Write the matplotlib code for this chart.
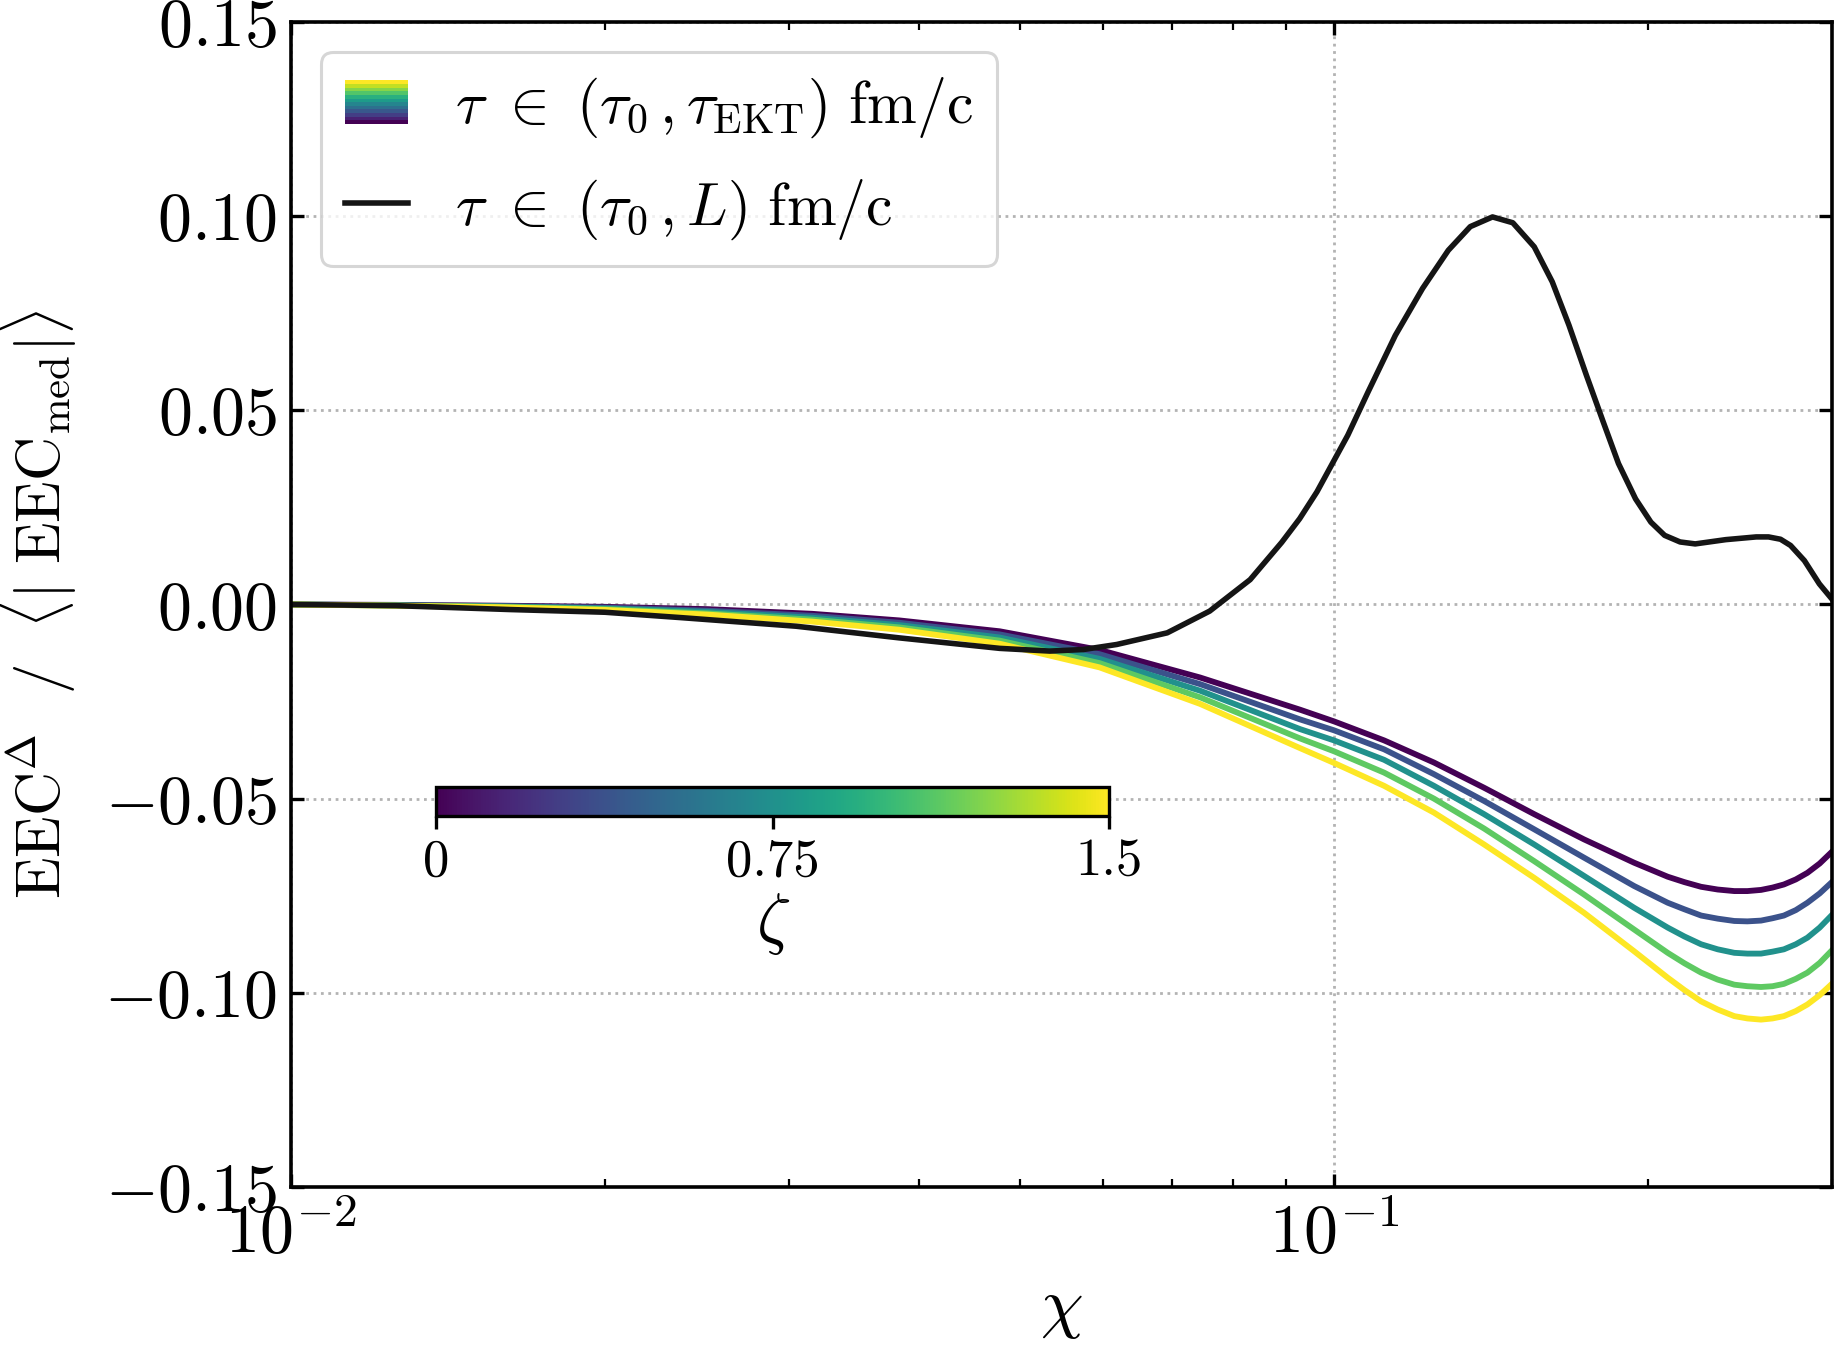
import matplotlib
matplotlib.use("Agg")
import matplotlib.pyplot as plt
import numpy as np
from matplotlib.patches import Rectangle
from matplotlib.legend_handler import HandlerBase
from matplotlib.lines import Line2D
from matplotlib.ticker import LogLocator, NullFormatter
import matplotlib.colors as mcolors

plt.rcParams["font.family"] = "serif"
plt.rcParams["font.serif"] = ["cmr10"]
plt.rcParams["mathtext.fontset"] = "cm"
plt.rcParams["axes.formatter.use_mathtext"] = True

# chi grid for the EKT curves (one curve per zeta)
chi = [0.01, 0.0126, 0.0158, 0.02, 0.0251, 0.0316, 0.0383, 0.0478, 0.0596, 0.0744, 0.0928,
       0.1, 0.1117, 0.1247, 0.1393, 0.1556, 0.1737, 0.194, 0.2089, 0.2168, 0.2249, 0.2333,
       0.242, 0.2491, 0.2567, 0.2633, 0.270, 0.2772, 0.2844, 0.2922, 0.2996]
zeta = [0.0, 0.375, 0.75, 1.125, 1.5]
eec_z0 = [0, -0.0001, -0.0003, -0.0006, -0.0012, -0.0024, -0.0041, -0.0069, -0.0117, -0.0188,
          -0.0271, -0.0301, -0.0350, -0.0407, -0.0472, -0.0540, -0.0605, -0.0665, -0.0701,
          -0.0715, -0.0727, -0.0734, -0.0738, -0.0738, -0.0735, -0.0729, -0.0721, -0.0708,
          -0.0691, -0.0667, -0.0639]
eec_z1 = [0, -0.0002, -0.0004, -0.0008, -0.0016, -0.0029, -0.0047, -0.0077, -0.0128, -0.0205,
          -0.0296, -0.0324, -0.0373, -0.0437, -0.0506, -0.0579, -0.0652, -0.0725, -0.0768,
          -0.0785, -0.0801, -0.0809, -0.0815, -0.0816, -0.0814, -0.0808, -0.0801, -0.0787,
          -0.0768, -0.0744, -0.0717]
eec_z2 = [0, -0.0002, -0.0005, -0.0010, -0.0019, -0.0034, -0.0053, -0.0085, -0.0140, -0.0222,
          -0.0321, -0.0350, -0.0400, -0.0467, -0.0540, -0.0618, -0.0699, -0.0781, -0.0832,
          -0.0855, -0.0875, -0.0888, -0.0897, -0.0899, -0.0899, -0.0894, -0.0888, -0.0875,
          -0.0858, -0.0832, -0.0802]
eec_z3 = [0, -0.0003, -0.0006, -0.0012, -0.0023, -0.0039, -0.0059, -0.0093, -0.0151, -0.0239,
          -0.0345, -0.0378, -0.0433, -0.0500, -0.0577, -0.0661, -0.0747, -0.0837, -0.0897,
          -0.0924, -0.0948, -0.0966, -0.0979, -0.0983, -0.0985, -0.0983, -0.0977, -0.0964,
          -0.0948, -0.0923, -0.0893]
eec_z4 = [0, -0.0003, -0.0007, -0.0014, -0.0026, -0.0044, -0.0065, -0.0101, -0.0162, -0.0256,
          -0.0370, -0.0408, -0.0467, -0.0536, -0.0618, -0.0704, -0.0794, -0.0893, -0.0961,
          -0.0993, -0.1022, -0.1043, -0.1060, -0.1066, -0.1069, -0.1066, -0.1060, -0.1047,
          -0.1030, -0.1006, -0.0979]
eec_ekt = [eec_z0, eec_z1, eec_z2, eec_z3, eec_z4]

# full evolution up to L
chi_L = [0.01, 0.0126, 0.0162, 0.02, 0.0237, 0.0305, 0.0383, 0.0478, 0.0534, 0.0575, 0.0619,
         0.0692, 0.0760, 0.0831, 0.0891, 0.0927, 0.0963, 0.1031, 0.1078, 0.1145, 0.1216,
         0.1287, 0.1351, 0.1419, 0.1484, 0.1556, 0.1619, 0.168, 0.1746, 0.1812, 0.1874,
         0.1946, 0.2013, 0.2075, 0.2147, 0.222, 0.2375, 0.254, 0.261, 0.268, 0.274, 0.2825,
         0.292, 0.300]
eec_L = [0.0, -0.0003, -0.0013, -0.0020, -0.0034, -0.0056, -0.0086, -0.0113, -0.0120, -0.0116,
         -0.0103, -0.0073, -0.0017, 0.0064, 0.0160, 0.0221, 0.0290, 0.0436, 0.0547, 0.0693,
         0.0814, 0.0912, 0.0973, 0.0998, 0.0983, 0.0921, 0.0831, 0.0719, 0.0590, 0.0470,
         0.0363, 0.0272, 0.0212, 0.0178, 0.0161, 0.0156, 0.0167, 0.0174, 0.0174, 0.0168,
         0.0152, 0.0113, 0.0053, 0.0015]


class GradientHandler(HandlerBase):
    def create_artists(self, legend, orig_handle, xdescent, ydescent, width, height,
                       fontsize, trans):
        n = 12
        out = []
        for i in range(n):
            r = Rectangle((-xdescent, -ydescent + i * height / n), width, height / n,
                          facecolor=plt.cm.viridis(i / (n - 1)), edgecolor="none",
                          transform=trans)
            out.append(r)
        return out


fs = 24.5
fig = plt.figure(figsize=(9.17, 6.745), dpi=200)
ax = fig.add_axes([0.1587, 0.1201, 0.84, 0.8636])

norm = mcolors.Normalize(vmin=0, vmax=1.5)
for z, y in zip(zeta, eec_ekt):
    ax.plot(chi, y, color=plt.cm.viridis(norm(z)), lw=2.1)
ax.plot(chi_L, eec_L, color="#151515", lw=2.0)

ax.set_xscale("log")
ax.set_xlim(0.01, 0.30)
ax.set_ylim(-0.15, 0.15)
ax.set_yticks([-0.15, -0.10, -0.05, 0.0, 0.05, 0.10, 0.15])
ax.xaxis.set_minor_locator(LogLocator(base=10, subs=np.arange(2, 10)))
ax.xaxis.set_minor_formatter(NullFormatter())
ax.grid(which="major", ls=":", color="0.7", lw=1.0)

ax.tick_params(which="both", direction="in", top=True, right=True, labelsize=fs, pad=5)
ax.tick_params(which="major", length=4.7, width=1.2)
ax.tick_params(which="minor", length=2.9, width=0.8)
for s in ax.spines.values():
    s.set_linewidth(1.3)

ax.set_xlabel(r"$\chi$", fontsize=fs, labelpad=5)
ax.set_ylabel(r"$\mathrm{EEC}^{\Delta}\ \ /\ \ \langle|\ \mathrm{EEC}_{\rm med}|\rangle$",
              fontsize=22, labelpad=9)

handles = [Rectangle((0, 0), 1, 1), Line2D([], [], color="#151515", lw=2.0)]
labels = [r"$\tau\ \in\ (\tau_0\,, \tau_{\rm EKT})\ \mathrm{fm/c}$",
          r"$\tau\ \in\ (\tau_0\,, L)\ \mathrm{fm/c}$"]
leg = ax.legend(handles, labels, loc="upper left", fontsize=21.5,
                handler_map={Rectangle: GradientHandler()},
                handlelength=1.05, handleheight=0.75, handletextpad=0.8,
                labelspacing=0.62, edgecolor="0.8")
leg.get_frame().set_linewidth(1.1)

cax = ax.inset_axes([0.0941, 0.3185, 0.437, 0.0249])
sm = plt.cm.ScalarMappable(norm=norm, cmap="viridis")
cb = fig.colorbar(sm, cax=cax, orientation="horizontal", ticks=[0, 0.75, 1.5])
cb.ax.set_xticklabels(["0", "0.75", "1.5"])
cb.ax.tick_params(labelsize=19, length=4.7, width=1.2, direction="out")
cb.outline.set_linewidth(1.2)
cb.set_label(r"$\zeta$", fontsize=fs, labelpad=2)

fig.savefig("out.png", dpi=200)
